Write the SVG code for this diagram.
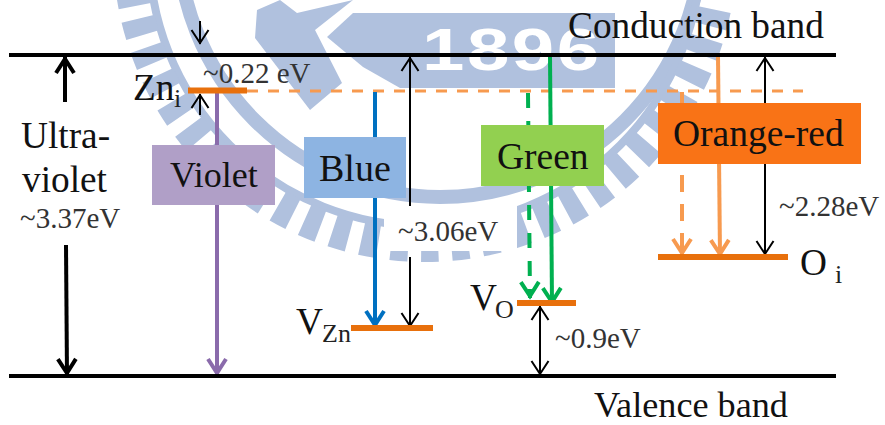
<svg xmlns="http://www.w3.org/2000/svg" width="885" height="425" viewBox="0 0 885 425">
<style>
text{font-family:"Liberation Serif","Times New Roman",serif;fill:#111}
.big{font-size:37.300px}.sm{font-size:29px;fill:#333}.sub{font-size:26px;fill:#222}
.wm{fill:none;stroke:#b0c1de}
.l{fill:none;stroke-linecap:butt}
.k{stroke:#000;stroke-width:2}.kk{stroke:#000;stroke-width:4}
.lev{fill:none;stroke:#e8700c;stroke-width:6}
.band{fill:none;stroke:#000;stroke-width:4}
</style>
<defs>
<marker id="aK" markerUnits="userSpaceOnUse" markerWidth="24" markerHeight="24" refX="18" refY="12" orient="auto"><path d="M4 3.500L17 12L4 20.500" fill="none" stroke="#000" stroke-width="2"/></marker>
<marker id="aB" markerUnits="userSpaceOnUse" markerWidth="28" markerHeight="28" refX="21" refY="14" orient="auto"><path d="M5 5L19 14L5 23" fill="none" stroke="#000" stroke-width="4"/></marker>
<marker id="aV" markerUnits="userSpaceOnUse" markerWidth="28" markerHeight="28" refX="21" refY="14" orient="auto"><path d="M5 5L19 14L5 23" fill="none" stroke="#8a6bab" stroke-width="4"/></marker>
<marker id="aL" markerUnits="userSpaceOnUse" markerWidth="28" markerHeight="28" refX="21" refY="14" orient="auto"><path d="M5 5L19 14L5 23" fill="none" stroke="#0070c0" stroke-width="4"/></marker>
<marker id="aG" markerUnits="userSpaceOnUse" markerWidth="28" markerHeight="28" refX="21" refY="14" orient="auto"><path d="M5 5L19 14L5 23" fill="none" stroke="#00b050" stroke-width="4"/></marker>
<marker id="aO" markerUnits="userSpaceOnUse" markerWidth="28" markerHeight="28" refX="21" refY="14" orient="auto"><path d="M5 5L19 14L5 23" fill="none" stroke="#f79a4f" stroke-width="4"/></marker>
</defs>
<rect width="885" height="425" fill="#fff"/>
<g id="watermark">
<circle class="wm" cx="440" cy="-65" r="262" stroke-width="14"/>
<circle class="wm" cx="425" cy="-50" r="276" stroke-width="8"/>
<circle class="wm" cx="425" cy="-50" r="295" stroke-width="34" stroke-dasharray="17 13"/>
<path fill="#b0c1de" d="M353 13H615V88H400L363 67L327 37Z"/>
<path fill="#b0c1de" d="M280 0L297 13L353 0L315 30L342 83L310 110L255 38L257 10Z"/>
<text transform="translate(422 70) scale(1.27 1)" style="font-family:'Liberation Sans',sans-serif;font-weight:700;font-size:60px;fill:#fff;letter-spacing:2px">1896</text>
<rect x="384" y="206" width="133" height="45" fill="#fff"/>
</g>
<g id="connectors">
<path class="l" stroke="#f79a4f" stroke-width="3" stroke-dasharray="11 10" d="M247 91H803"/>
<path class="l kk" marker-end="url(#aB)" d="M65 102V57"/>
<path class="l kk" marker-end="url(#aB)" d="M66 245L67 375"/>
<path class="l" stroke="#8a6bab" stroke-width="4" marker-end="url(#aV)" d="M217 92V375"/>
<path class="l" stroke="#0070c0" stroke-width="4" marker-end="url(#aL)" d="M375 92V327"/>
<path class="l k" marker-end="url(#aK)" d="M410 206V57"/>
<path class="l k" marker-end="url(#aK)" d="M410 257V327"/>
<path class="l" stroke="#00b050" stroke-width="4" stroke-dasharray="15 13" marker-end="url(#aG)" d="M528 93L530 298"/>
<path class="l" stroke="#00b050" stroke-width="4" marker-end="url(#aG)" d="M550 56L552 304"/>
<path class="l" stroke="#f79a4f" stroke-width="4" stroke-dasharray="17 12" stroke-dashoffset="4" marker-end="url(#aO)" d="M682 92V255"/>
<path class="l" stroke="#f79a4f" stroke-width="4" marker-end="url(#aO)" d="M718 56L720 256"/>
<path class="l k" marker-end="url(#aK)" d="M765 103V57"/>
<path class="l k" marker-end="url(#aK)" d="M765 164V255"/>
<path class="l k" marker-end="url(#aK)" d="M200 21V44"/>
<path class="l k" marker-end="url(#aK)" d="M200 115V94"/>
<path class="l k" marker-end="url(#aK)" d="M540 340V306"/>
<path class="l k" marker-end="url(#aK)" d="M540 340V375"/>
</g>
<g id="bands">
<path class="band" d="M9 55H836"/><path class="band" d="M9 376H836"/>
<text class="big" x="568" y="38">Conduction band</text>
<text class="big" x="594" y="417" style="font-size:36.200px">Valence band</text>
</g>
<g id="uv">
<text class="big" x="21" y="148">Ultra-</text>
<text class="big" x="22" y="192">violet</text>
<text class="sm" x="20" y="228">~3.37eV</text>
</g>
<g id="zni">
<path class="lev" d="M188 90.500H247"/>
<text class="big" x="133" y="100">Zn</text><text class="sub" x="174" y="107">i</text>
<text class="sm" x="203" y="83">~0.22 eV</text>
</g>
<g id="vzn">
<path class="lev" d="M351 328H433"/>
<text class="big" x="296" y="334">V</text><text class="sub" x="322" y="342">Zn</text>
</g>
<g id="vo">
<path class="lev" d="M517 303H576"/>
<text class="big" x="470" y="310">V</text><text class="sub" x="495" y="318">O</text>
</g>
<g id="oi">
<path class="lev" d="M658 257H788"/>
<text class="big" x="800" y="275">O</text><text class="sub" x="835" y="283">i</text>
</g>
<g id="violet"><rect x="152" y="145" width="123" height="60" fill="#b09fc7"/><text class="big" x="170" y="187" style="font-size:36px">Violet</text></g>
<g id="blue"><rect x="304" y="137" width="102" height="61" fill="#8db4e2"/><text class="big" x="319" y="181" style="font-size:38px">Blue</text></g>
<g id="green"><rect x="481" y="125" width="123" height="61" fill="#92d050"/><text class="big" x="497" y="169" style="font-size:37.500px">Green</text></g>
<g id="orange-red"><rect x="658" y="103" width="203" height="61" fill="#f97316"/><text class="big" x="673" y="146" style="font-size:37.500px">Orange-red</text></g>
<g id="labels">
<text class="sm" x="398" y="241">~3.06eV</text>
<text class="sm" x="555" y="348">~0.9eV</text>
<text class="sm" x="779" y="216">~2.28eV</text>
</g>
</svg>
